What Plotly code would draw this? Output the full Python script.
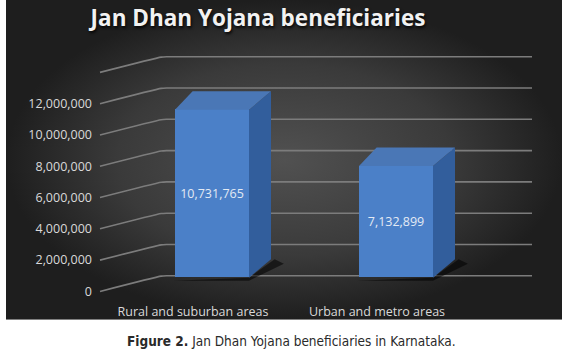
import plotly.graph_objects as go

# ---------------- data ----------------
categories = ["Rural and suburban areas", "Urban and metro areas"]
beneficiaries = [10731765, 7132899]
y_ticks = [0, 2000000, 4000000, 6000000, 8000000, 10000000, 12000000]
grid_levels = [0, 2000000, 4000000, 6000000, 8000000, 10000000, 12000000, 14000000]
title_text = "Jan Dhan Yojana beneficiaries"
caption_text = "<b>Figure 2.</b> Jan Dhan Yojana beneficiaries in Karnataka."

# ---------------- geometry (pixels) ----------------
W, H = 566, 362
def fx(px): return px / W
def fy(py): return (H - py) / H

CAT_PX = 184.0          # pixels per category
CAT0_PX = 212.0         # pixel x of first bar centre (front face)
XR = [-1.0, 1.9]
Y_PER_M = 16.0          # pixels per million
BASE_PX = 284.0         # pixel y of value 0 on the bar front plane
YR = [-2e6, 16e6]
YR_L = [0, 16e6]

x_dom = [fx(CAT0_PX + CAT_PX * XR[0]), fx(CAT0_PX + CAT_PX * XR[1])]
y_dom = [fy(BASE_PX - Y_PER_M * YR[0] / 1e6), fy(BASE_PX - Y_PER_M * YR[1] / 1e6)]

LBL_DX, LBL_DY = -19, 14   # label plane offset vs bar plane
x_dom_l = [x_dom[0] + LBL_DX / W, x_dom[1] + LBL_DX / W]
y_dom_l = [fy(BASE_PX + LBL_DY - Y_PER_M * YR_L[0] / 1e6),
           fy(BASE_PX + LBL_DY - Y_PER_M * YR_L[1] / 1e6)]

def ux(px_off): return px_off / CAT_PX
def uy(px_off): return px_off / Y_PER_M * 1e6

BAR_W = 74 / CAT_PX
DDX, DDY = ux(22), uy(19)

FONT = "Open Sans, Liberation Sans, sans-serif"

fig = go.Figure()

# background panel (radial gradient)
fig.add_trace(go.Scatter(
    x=[0, 1, 1, 0, 0], y=[0, 0, 1, 1, 0], mode="lines", line=dict(width=0, color="rgba(0,0,0,0)"),
    fill="toself",
    fillgradient=dict(type="radial", colorscale=[[0, "#515151"], [0.6, "#3a3a3a"], [1, "#1e1e1e"]]),
    hoverinfo="skip", showlegend=False, xaxis="x", yaxis="y"))

# gridlines: diagonal from label plane to back wall, then along back wall
front_x = ux(100 - CAT0_PX)
back_x = ux(163 - CAT0_PX)
end_x = ux(532 - CAT0_PX)
for v in grid_levels:
    fig.add_trace(go.Scatter(
        x=[front_x, back_x - 0.01, back_x + 0.02, end_x],
        y=[v - uy(14), v + uy(1.6), v + uy(2), v + uy(2)],
        mode="lines", line=dict(color="#7c7c7c", width=1.6, shape="spline", smoothing=0.4),
        hoverinfo="skip", showlegend=False, xaxis="x2", yaxis="y2"))

# bar shadows
for i, v in enumerate(beneficiaries):
    xl, xr = i - BAR_W / 2, i + BAR_W / 2
    fig.add_trace(go.Scatter(
        x=[xl - 0.01, xr, xr + DDX + 0.07, xr + DDX + 0.02, xr],
        y=[-uy(3), -uy(3), DDY * 0.75, DDY, 0],
        mode="lines", line=dict(width=0), fill="toself", fillcolor="rgba(0,0,0,0.55)",
        hoverinfo="skip", showlegend=False, xaxis="x2", yaxis="y2"))

# invisible trace to hold the label axes
fig.add_trace(go.Scatter(x=[0, 1], y=[0, 0], mode="markers", marker=dict(opacity=0),
                         hoverinfo="skip", showlegend=False, xaxis="x3", yaxis="y3"))

# bars (front faces)
fig.add_trace(go.Bar(
    x=list(range(len(categories))), y=beneficiaries, width=BAR_W,
    marker=dict(color="#4b80c8", line=dict(width=0)),
    text=[f"{v:,}" for v in beneficiaries], textposition="inside", insidetextanchor="middle",
    textfont=dict(family=FONT, size=12.5, color="#e3eaf4"),
    hoverinfo="skip", showlegend=False, xaxis="x4", yaxis="y4"))

for i, v in enumerate(beneficiaries):
    xl, xr = i - BAR_W / 2, i + BAR_W / 2
    # side face
    fig.add_trace(go.Scatter(
        x=[xr, xr + DDX, xr + DDX, xr, xr], y=[0, DDY, v + DDY, v, 0],
        mode="lines", line=dict(width=0), fill="toself", fillcolor="#325e9c",
        hoverinfo="skip", showlegend=False, xaxis="x4", yaxis="y4"))
    # top face
    fig.add_trace(go.Scatter(
        x=[xl, xl + DDX * 0.8, xr + DDX, xr, xl], y=[v, v + DDY, v + DDY, v, v],
        mode="lines", line=dict(width=0), fill="toself", fillcolor="#4a77b6",
        hoverinfo="skip", showlegend=False, xaxis="x4", yaxis="y4"))

hidden = dict(showgrid=False, zeroline=False, showline=False, showticklabels=False, ticks="")
fig.update_layout(
    width=W, height=H, margin=dict(l=0, r=0, t=0, b=0),
    paper_bgcolor="white", plot_bgcolor="rgba(0,0,0,0)",
    xaxis=dict(domain=[fx(6), fx(562)], range=[0, 1], fixedrange=True, **hidden),
    yaxis=dict(domain=[fy(327), 1], range=[0, 1], fixedrange=True, **hidden),
    xaxis2=dict(domain=x_dom, range=XR, anchor="y2", fixedrange=True, **hidden),
    yaxis2=dict(domain=y_dom, range=YR, anchor="x2", fixedrange=True, **hidden),
    xaxis3=dict(domain=x_dom_l, range=XR, anchor="y3", fixedrange=True,
                showgrid=False, zeroline=False, showline=False, ticks="",
                tickmode="array", tickvals=list(range(len(categories))), ticktext=categories,
                tickfont=dict(family=FONT, size=12.5, color="#d9d9d9"), ticklabelstandoff=11),
    yaxis3=dict(domain=y_dom_l, range=YR_L, anchor="free", position=fx(92), fixedrange=True,
                showgrid=False, zeroline=False, showline=False, ticks="",
                tickmode="array", tickvals=y_ticks, ticktext=[f"{t:,}" for t in y_ticks],
                tickfont=dict(family=FONT, size=12.5, color="#d9d9d9")),
    xaxis4=dict(domain=x_dom, range=XR, anchor="y4", fixedrange=True, **hidden),
    yaxis4=dict(domain=y_dom, range=YR, anchor="x4", fixedrange=True, **hidden),
    title=dict(text=title_text, x=fx(258), xanchor="center", y=fy(19), yanchor="middle",
               xref="paper", yref="paper",
               font=dict(family=FONT, size=22.5, color="#f2f2f2", weight="bold",
                         shadow="1px 2px 3px rgba(0,0,0,0.85)")),
    annotations=[dict(text=caption_text, x=fx(291), y=fy(349), xref="paper", yref="paper",
                      xanchor="center", yanchor="middle", showarrow=False,
                      font=dict(family="Liberation Sans Narrow, DejaVu Sans Condensed, sans-serif",
                                size=13.5, color="#2a2a2a"))],
    bargap=0,
)

page_css = (
    "var s='margin:0;padding:0;overflow:hidden;width:566px;height:362px;';"
    "document.documentElement.style.cssText=s;document.body.style.cssText=s;"
)
fig.write_html("out.html", config={"displayModeBar": False}, post_script=page_css)
